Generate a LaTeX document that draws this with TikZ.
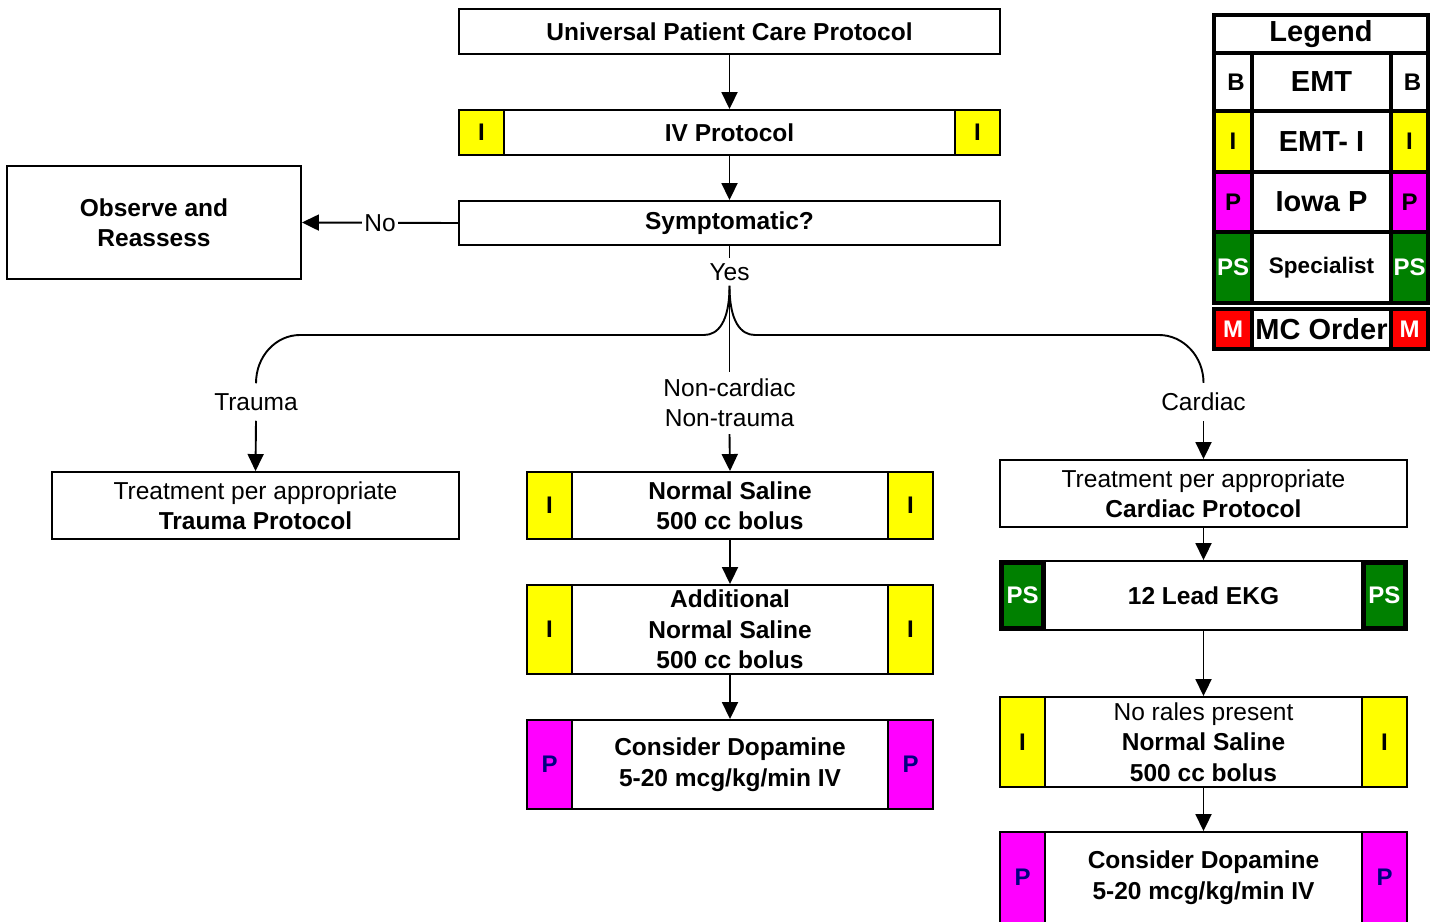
\documentclass[tikz,border=0pt]{standalone}
\usepackage{fontspec}
\setmainfont{Liberation Sans}
\usetikzlibrary{arrows.meta}
\usetikzlibrary{positioning}
\definecolor{ivyellow}{RGB}{255, 255, 0}
\definecolor{parmagenta}{RGB}{255, 0, 255}
\definecolor{specgreen}{RGB}{0, 128, 0}
\definecolor{mcred}{RGB}{255, 0, 0}
\definecolor{pnavy}{RGB}{0, 0, 128}

\begin{document}
\begin{tikzpicture}[x=1pt, y=-1pt,
        box/.style={draw, line width=1.9pt, fill=white, align=center, inner sep=0pt, font=\fontsize{24.5}{30.5}\selectfont\bfseries},
        plainbox/.style={box, font=\fontsize{24.5}{30.5}\selectfont},
        tagI/.style={draw, line width=1.9pt, fill=ivyellow, inner sep=0pt, minimum width=45pt, font=\fontsize{24}{28}\selectfont\bfseries},
        tagP/.style={tagI, fill=parmagenta, text=pnavy},
        tagPS/.style={tagI, fill=specgreen, text=white, line width=5pt, minimum width=42pt},
        lbl/.style={inner sep=10pt, align=center, font=\fontsize{24.5}{30}\selectfont},
        flow/.style={line width=1.9pt, -{Triangle[length=17pt, width=16pt]}},
        branch/.style={line width=1.9pt},
        leg/.style={draw, line width=3.5pt, fill=white, inner sep=0pt, font=\fontsize{29}{34}\selectfont\bfseries},
        legtag/.style={leg, font=\fontsize{24}{28}\selectfont\bfseries}]
    \useasboundingbox (0,0) rectangle (1437,921);

    % Top of the chart
    \node[box, minimum width=541pt, minimum height=45pt] (upc) at (729.5, 31.5)  {Universal Patient Care Protocol};
    \node[box, minimum width=541pt, minimum height=45pt] (iv)  at (729.5, 132.5) {IV Protocol};
    \node[tagI, minimum height=45pt, anchor=west]        (ivL) at (iv.west) {I};
    \node[tagI, minimum height=45pt, anchor=east]        (ivR) at (iv.east) {I};
    \node[box, minimum width=541pt, minimum height=44pt] (sym) at (729.5, 223)   {Symptomatic?};
    \node[box, minimum width=294pt, minimum height=113pt] (obs) at (154, 222.5)  {Observe and\\Reassess};
    \draw[flow] (upc.south) -- (iv.north);
    \draw[flow] (iv.south)  -- (sym.north);
    \draw[flow] (sym.west)  -- node[fill=white, inner sep=2pt, font=\fontsize{24.5}{30}\selectfont] (no) {No} (obs.east);

    % Branches
    \node[lbl, inner sep=5pt] (yes)      at (729.5, 272) {Yes};
    \node[lbl]                (trLbl)    at (256, 402)   {Trauma};
    \node[lbl, inner sep=7pt] (ncLbl)    at (729.5, 403) {Non-cardiac\\Non-trauma};
    \node[lbl]                (cardLbl)  at (1203.5, 402) {Cardiac};
    \draw[branch] (sym.south) -- (yes.north);
    \draw[branch] (yes.south) .. controls (729.5, 322) and (718, 335) .. (704, 335) -- (300, 335)
                  .. controls (276, 335) and (256, 356) .. (trLbl.north);
    \draw[branch] (yes.south) .. controls (729.5, 322) and (741, 335) .. (755, 335) -- (1159, 335)
                  .. controls (1183, 335) and (1203.5, 356) .. (cardLbl.north);
    \draw[branch] (yes.south) -- (ncLbl.north);

    % Trauma column
    \node[plainbox, minimum width=407pt, minimum height=67pt] (trauma) at (255.5, 505.5) {Treatment per appropriate\\\textbf{Trauma Protocol}};
    \draw[flow] (trLbl.south) -- (trauma.north);

    % Non-cardiac column
    \node[box, minimum width=406pt, minimum height=67pt] (ns1) at (730, 505.5) {Normal Saline\\500 cc bolus};
    \node[tagI, minimum height=67pt, anchor=west] (ns1L) at (ns1.west) {I};
    \node[tagI, minimum height=67pt, anchor=east] (ns1R) at (ns1.east) {I};
    \node[box, minimum width=406pt, minimum height=89pt] (ns2) at (730, 629.5) {Additional\\Normal Saline\\500 cc bolus};
    \node[tagI, minimum height=89pt, anchor=west] (ns2L) at (ns2.west) {I};
    \node[tagI, minimum height=89pt, anchor=east] (ns2R) at (ns2.east) {I};
    \node[box, minimum width=406pt, minimum height=89pt] (dopaA) at (730, 764.5) {Consider Dopamine\\5-20 mcg/kg/min IV};
    \node[tagP, minimum height=89pt, anchor=west] (dopaAL) at (dopaA.west) {P};
    \node[tagP, minimum height=89pt, anchor=east] (dopaAR) at (dopaA.east) {P};
    \draw[flow] (ncLbl.south) -- (ns1.north);
    \draw[flow] (ns1.south)   -- (ns2.north);
    \draw[flow] (ns2.south)   -- (dopaA.north);

    % Cardiac column
    \node[plainbox, minimum width=407pt, minimum height=67pt] (cardp) at (1203.5, 493.5) {Treatment per appropriate\\\textbf{Cardiac Protocol}};
    \node[box, minimum width=407pt, minimum height=69pt] (ekg) at (1203.5, 595.5) {12 Lead EKG};
    \node[tagPS, minimum height=66pt, anchor=west] (ekgL) at (ekg.west) {PS};
    \node[tagPS, minimum height=66pt, anchor=east] (ekgR) at (ekg.east) {PS};
    \node[box, minimum width=407pt, minimum height=90pt] (rales) at (1203.5, 742) {{\mdseries No rales present}\\Normal Saline\\500 cc bolus};
    \node[tagI, minimum height=90pt, anchor=west] (ralesL) at (rales.west) {I};
    \node[tagI, minimum height=90pt, anchor=east] (ralesR) at (rales.east) {I};
    \node[box, minimum width=407pt, minimum height=91pt] (dopaB) at (1203.5, 877.5) {Consider Dopamine\\5-20 mcg/kg/min IV};
    \node[tagP, minimum height=91pt, anchor=west] (dopaBL) at (dopaB.west) {P};
    \node[tagP, minimum height=91pt, anchor=east] (dopaBR) at (dopaB.east) {P};
    \draw[flow] (cardLbl.south) -- (cardp.north);
    \draw[flow] (cardp.south)   -- (ekg.north);
    \draw[flow] (ekg.south)     -- (rales.north);
    \draw[flow] (rales.south)   -- (dopaB.north);

    % Legend
    \node[leg, minimum width=214pt, minimum height=38pt] (legTitle) at (1321, 34) {Legend};
    \node[legtag, minimum width=38pt, minimum height=58pt] (legBL) at (1233, 82)     {\hspace*{6pt}B};
    \node[leg, minimum width=139pt, minimum height=58pt]   (legB)  at (1321.5, 82)   {EMT};
    \node[legtag, minimum width=37pt, minimum height=58pt] (legBR) at (1409.5, 82)   {\hspace*{6pt}B};
    \node[legtag, fill=ivyellow, minimum width=38pt, minimum height=61pt] (legIL) at (1233, 141.5)   {I};
    \node[leg, minimum width=139pt, minimum height=61pt]                  (legI)  at (1321.5, 141.5) {EMT- I};
    \node[legtag, fill=ivyellow, minimum width=37pt, minimum height=61pt] (legIR) at (1409.5, 141.5) {I};
    \node[legtag, fill=parmagenta, minimum width=38pt, minimum height=60pt] (legPL) at (1233, 202)   {P};
    \node[leg, minimum width=139pt, minimum height=60pt]                    (legP)  at (1321.5, 202) {Iowa P};
    \node[legtag, fill=parmagenta, minimum width=37pt, minimum height=60pt] (legPR) at (1409.5, 202) {P};
    \node[legtag, fill=specgreen, text=white, minimum width=38pt, minimum height=71pt] (legSL) at (1233, 267.5)   {PS};
    \node[leg, font=\fontsize{22.5}{26}\selectfont\bfseries, minimum width=139pt, minimum height=71pt] (legS) at (1321.5, 267.5) {Specialist};
    \node[legtag, fill=specgreen, text=white, minimum width=37pt, minimum height=71pt] (legSR) at (1409.5, 267.5) {PS};
    \node[legtag, fill=mcred, text=white, minimum width=38pt, minimum height=40pt] (legML) at (1233, 329)   {M};
    \node[leg, minimum width=139pt, minimum height=40pt]                           (legM)  at (1321.5, 329) {MC Order};
    \node[legtag, fill=mcred, text=white, minimum width=37pt, minimum height=40pt] (legMR) at (1409.5, 329) {M};
\end{tikzpicture}
\end{document}
